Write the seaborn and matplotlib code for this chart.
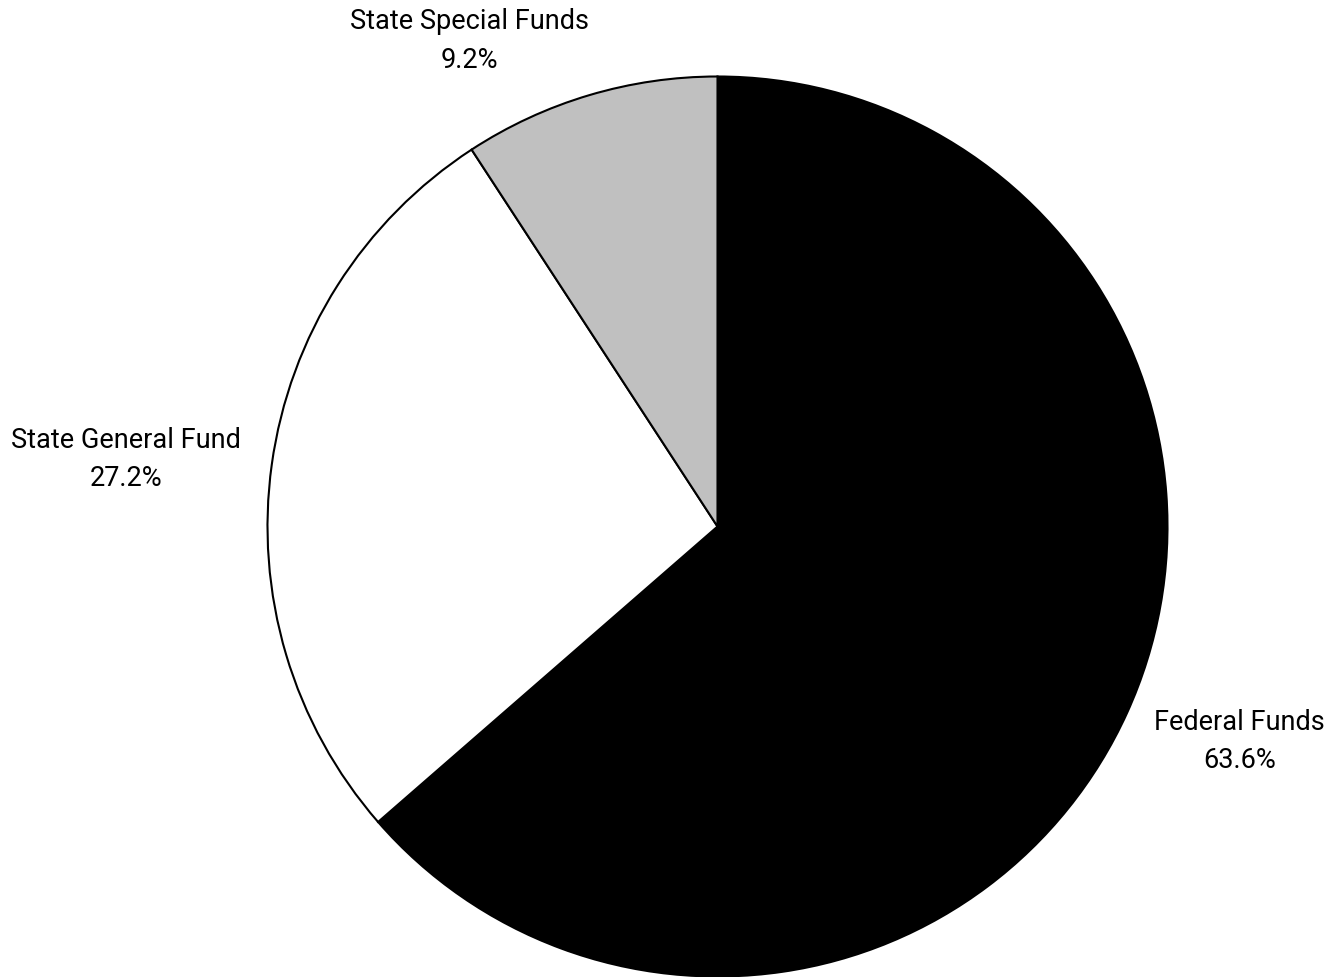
import matplotlib
matplotlib.use("Agg")
import matplotlib.pyplot as plt
import seaborn as sns

categories = ["Federal Funds", "State General Fund", "State Special Funds"]
shares = [63.6, 27.2, 9.2]
colors = ["#000000", "#ffffff", "#c0c0c0"]

sns.set_theme(style="white")
plt.rcParams['font.family'] = ['Roboto', 'DejaVu Sans']

W, H = 1328, 978
fig = plt.figure(figsize=(W / 100, H / 100), dpi=100)
cx, cy, r = 717.5, 527.5, 450
ax = fig.add_axes([(cx - r) / W, (H - cy - r) / H, 2 * r / W, 2 * r / H])
wedges, _ = ax.pie(shares, colors=colors, startangle=90, counterclock=False, radius=1,
                   wedgeprops=dict(edgecolor="black", linewidth=1.5))
for w in wedges:
    w.set_clip_on(False)
ax.set_xlim(-1, 1)
ax.set_ylim(-1, 1)
ax.set_aspect("equal")
ax.axis("off")

label_pos = [(1.160, -0.476), (-1.314, 0.151), (-0.551, 1.081)]
for name, val, (x, y) in zip(categories, shares, label_pos):
    ax.text(x, y, f"{name}\n{val:.1f}%", ha="center", va="center",
            fontsize=19.5, color="black", clip_on=False, linespacing=1.55)

fig.savefig("out.png", dpi=100)
